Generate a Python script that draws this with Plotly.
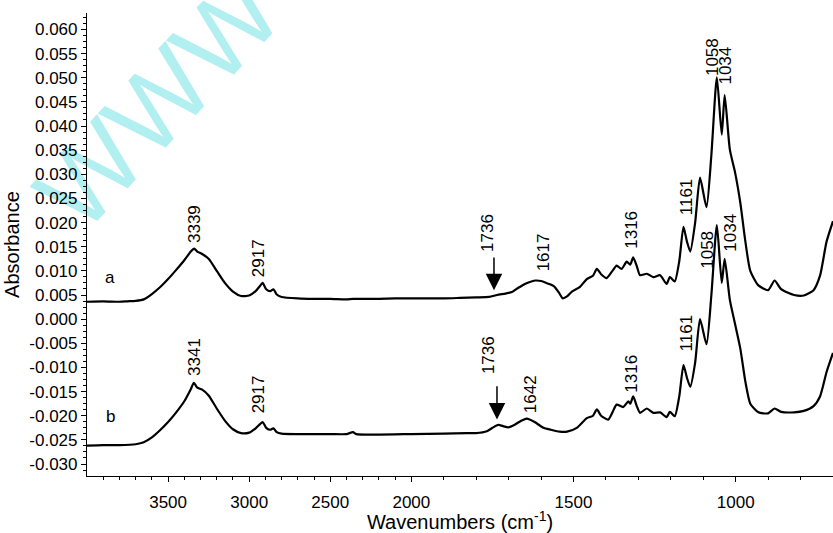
import plotly.graph_objects as go

# ---------------- data ----------------
wn_a = [4000, 3900, 3800, 3750, 3700, 3650, 3600, 3550, 3500, 3450, 3400, 3360, 3339, 3320, 3290,
        3250, 3200, 3150, 3100, 3050, 3000, 2960, 2935, 2917, 2895, 2870, 2850, 2830, 2800, 2700,
        2600, 2500, 2400, 2360, 2300, 2200, 2100, 2000, 1900, 1850, 1800, 1760, 1736, 1710, 1690,
        1670, 1650, 1630, 1617, 1600, 1580, 1560, 1545, 1533, 1520, 1505, 1480, 1459, 1440, 1428,
        1415, 1398, 1380, 1367, 1352, 1336, 1325, 1316, 1305, 1295, 1274, 1254, 1233, 1213, 1203,
        1188, 1174, 1161, 1150, 1140, 1125, 1110, 1090, 1075, 1058, 1043, 1034, 1018, 1002, 986,
        970, 955, 930, 900, 880, 860, 820, 790, 760, 740, 720, 700]
abs_a = [0.0036, 0.0037, 0.0036, 0.0037, 0.0038, 0.0041, 0.0052, 0.0066, 0.0083, 0.0102, 0.0122, 0.0140,
         0.0146, 0.0140, 0.0135, 0.0125, 0.0100, 0.0075, 0.0057, 0.0048, 0.0049, 0.0058, 0.0068, 0.0075,
         0.0062, 0.0058, 0.0062, 0.0051, 0.0046, 0.0043, 0.0042, 0.0042, 0.0041, 0.0042, 0.0042, 0.0042,
         0.0043, 0.0043, 0.0043, 0.0044, 0.0045, 0.0046, 0.0050, 0.0053, 0.0056, 0.0065, 0.0073, 0.0078,
         0.0080, 0.0079, 0.0074, 0.0068, 0.0055, 0.0043, 0.0047, 0.0057, 0.0067, 0.0083, 0.0090, 0.0104,
         0.0093, 0.0085, 0.0100, 0.0111, 0.0104, 0.0119, 0.0113, 0.0128, 0.0110, 0.0091, 0.0094, 0.0087,
         0.0091, 0.0073, 0.0087, 0.0078, 0.0120, 0.0191, 0.0160, 0.0140, 0.0200, 0.0293, 0.0232, 0.0340,
         0.0501, 0.0382, 0.0464, 0.0351, 0.0304, 0.0242, 0.0160, 0.0100, 0.0070, 0.0060, 0.0080, 0.0062,
         0.0050, 0.0049, 0.0060, 0.0090, 0.0160, 0.0203]

wn_b = [4000, 3900, 3800, 3700, 3650, 3600, 3550, 3500, 3450, 3400, 3360, 3341, 3320, 3290, 3250,
        3200, 3150, 3100, 3050, 3000, 2960, 2935, 2917, 2895, 2870, 2850, 2830, 2800, 2700, 2500,
        2400, 2360, 2340, 2200, 2000, 1900, 1829, 1800, 1767, 1750, 1732, 1715, 1701, 1680, 1660,
        1644, 1620, 1593, 1570, 1543, 1520, 1490, 1459, 1440, 1428, 1415, 1393, 1380, 1367, 1347,
        1331, 1325, 1316, 1305, 1295, 1274, 1254, 1233, 1213, 1203, 1188, 1174, 1161, 1150, 1140,
        1125, 1110, 1090, 1075, 1058, 1043, 1034, 1018, 1002, 986, 970, 955, 930, 900, 880, 860,
        820, 790, 760, 740, 720, 700]
abs_b = [-0.0262, -0.0261, -0.0261, -0.0259, -0.0255, -0.0245, -0.0230, -0.0213, -0.0193, -0.0170,
         -0.0145, -0.0132, -0.0142, -0.0146, -0.0158, -0.0185, -0.0210, -0.0228, -0.0236, -0.0235,
         -0.0226, -0.0218, -0.0213, -0.0225, -0.0229, -0.0226, -0.0234, -0.0237, -0.0238, -0.0238,
         -0.0238, -0.0234, -0.0238, -0.0239, -0.0238, -0.0237, -0.0236, -0.0236, -0.0232, -0.0225,
         -0.0219, -0.0222, -0.0224, -0.0218, -0.0210, -0.0206, -0.0213, -0.0225, -0.0229, -0.0233,
         -0.0233, -0.0225, -0.0205, -0.0200, -0.0187, -0.0200, -0.0208, -0.0193, -0.0177, -0.0182,
         -0.0170, -0.0175, -0.0160, -0.0180, -0.0194, -0.0185, -0.0194, -0.0193, -0.0203, -0.0192,
         -0.0201, -0.0160, -0.0095, -0.0122, -0.0140, -0.0090, 0.0000, -0.0052, 0.0050, 0.0195,
         0.0075, 0.0125, 0.0040, -0.0010, -0.0060, -0.0130, -0.0175, -0.0193, -0.0195, -0.0185,
         -0.0192, -0.0193, -0.0190, -0.0180, -0.0160, -0.0110, -0.0070]

# peak labels: (wavenumber label, label base height, horizontal nudge px)
peaks_a = [3339, 2917, 1736, 1617, 1316, 1161, 1058, 1034]
peaks_a_y = [0.0154, 0.0082, 0.0135, 0.0094, 0.0142, 0.0211, 0.0499, 0.0481]
peaks_a_dx = [1, -4, -9, 8, -2, 3, -5, 1]
peaks_b = [3341, 2917, 1736, 1642, 1316, 1161, 1058, 1034]
peaks_b_y = [-0.0122, -0.0200, -0.0118, -0.0198, -0.0156, -0.0071, 0.0100, 0.0135]
peaks_b_dx = [0, -4, -9, 3, -2, 3, -9, 6]

arrow_a = (1736, 0.0131, 0.0060)
arrow_b = (1736, -0.0136, -0.0208)

x_major = [3500, 3000, 2500, 2000, 1500, 1000]
x_minor = [w for w in range(3900, 699, -100) if w not in x_major]
y_major = [round(-0.030 + 0.005 * i, 3) for i in range(19)]
y_labels = ["-0.030", "-0.025", "-0.020", "-0.015", "-0.010", "-0.005", "0.000", "0.005", "0.010",
            "0.015", "0.020", "0.025", "0.030", "0.035", "0.040", "0.045", "0.050", "0.055", "0.060"]


def to_axis(w):
    # the reference axis is compressed 2x above 2000 cm-1
    return w if w <= 2000 else 2000 + (w - 2000) / 2


FONT = "Liberation Sans, Arial, Helvetica, sans-serif"

fig = go.Figure()
for wn, ab in ((wn_a, abs_a), (wn_b, abs_b)):
    fig.add_trace(go.Scatter(x=[to_axis(w) for w in wn], y=ab, mode="lines",
                             line=dict(color="black", width=2.2, shape="spline", smoothing=0.6),
                             showlegend=False, hoverinfo="skip"))

ann = []
for peaks, ys, dxs in ((peaks_a, peaks_a_y, peaks_a_dx), (peaks_b, peaks_b_y, peaks_b_dx)):
    for p, yv, dx in zip(peaks, ys, dxs):
        ann.append(dict(x=to_axis(p), y=yv, xref="x", yref="y", text=str(p), textangle=-90,
                        showarrow=False, xanchor="center", yanchor="bottom", xshift=dx,
                        font=dict(family=FONT, size=17, color="black")))
for (w, y0, y1), dx in ((arrow_a, -3), (arrow_b, 0)):
    ann.append(dict(x=to_axis(w), y=y1, ax=to_axis(w), ay=y0, xref="x", yref="y", axref="x",
                    ayref="y", text="", showarrow=True, arrowhead=2, arrowsize=2.2,
                    arrowwidth=1.5, arrowcolor="black", xshift=dx))
for name, w, yv in (("a", 3856, 0.0087), ("b", 3856, -0.0201)):
    ann.append(dict(x=to_axis(w), y=yv, xref="x", yref="y", text=name, showarrow=False,
                    font=dict(family=FONT, size=17, color="black")))

fig.update_layout(
    width=833, height=533,
    margin=dict(l=87, r=0, t=13, b=54),
    paper_bgcolor="white", plot_bgcolor="white",
    annotations=ann,
    shapes=[dict(type="rect", xref="paper", yref="paper", x0=0.015, x1=0.155, y0=0.758, y1=0.888,
                 line=dict(width=0), fillcolor="rgba(0,0,0,0)", layer="below",
                 label=dict(text="WWW", textangle=-47, textposition="middle center",
                            font=dict(family=FONT, size=106, color="#b2eff0")))],
    xaxis=dict(range=[3000, 700], showline=True, linecolor="black", linewidth=1.2,
               showgrid=False, zeroline=False, ticks="outside", ticklen=5, tickwidth=1.2,
               tickcolor="black", tickmode="array",
               tickvals=[to_axis(w) for w in x_major], ticktext=[str(w) for w in x_major],
               ticklabelstandoff=5,
               minor=dict(tickmode="array", tickvals=[to_axis(w) for w in x_minor],
                          ticks="outside", ticklen=3, tickcolor="black", tickwidth=1),
               tickfont=dict(family=FONT, size=17, color="black"),
               title=dict(text="Wavenumbers (cm<sup>-1</sup>)", standoff=7,
                          font=dict(family=FONT, size=20, color="black"))),
    yaxis=dict(range=[-0.03248, 0.0634], showline=True, linecolor="black", linewidth=1.2,
               showgrid=False, zeroline=False, ticks="outside", ticklen=5, tickwidth=1.2,
               tickcolor="black", tickmode="array", tickvals=y_major, ticktext=y_labels,
               minor=dict(dtick=0.00125, tick0=0, ticks="outside", ticklen=3,
                          tickcolor="black", tickwidth=1),
               tickfont=dict(family=FONT, size=17, color="black"),
               title=dict(text="Absorbance", standoff=4,
                          font=dict(family=FONT, size=20, color="black"))),
)

fig.write_html("out.html")
